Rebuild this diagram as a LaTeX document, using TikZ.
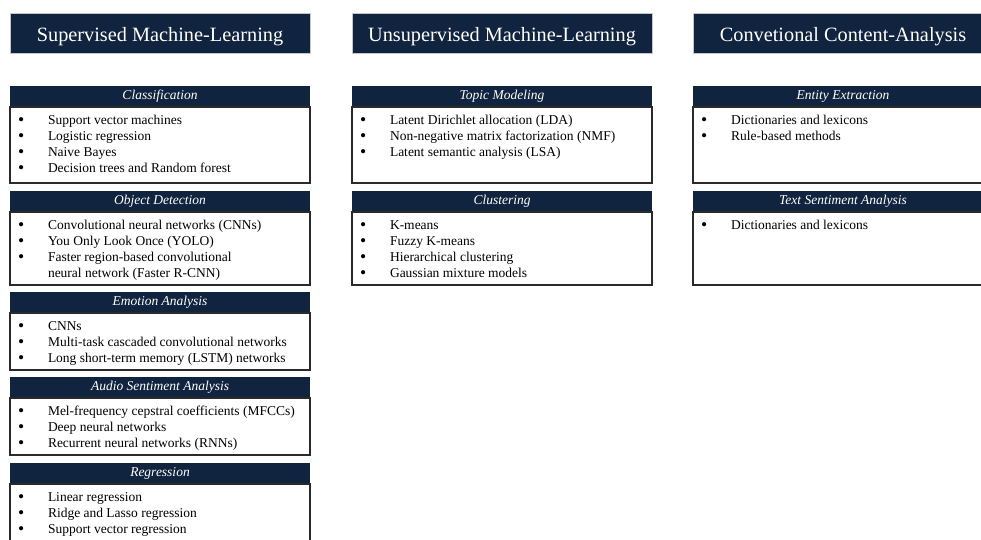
\documentclass[tikz,border=0pt]{standalone}
\usepackage{fontspec}
\setmainfont{Liberation Serif}
\usetikzlibrary{positioning}

\definecolor{deep-navy}{HTML}{10243F}
\definecolor{frame-gray}{HTML}{2A2A2A}

% bullet column of the item lists
\newcommand{\bul}{\raisebox{-0.15ex}{\scalebox{1.3}{\textbullet}} &}

\begin{document}
\begin{tikzpicture}[x=1pt, y=1pt,
    every node/.style={inner sep=0pt, outer sep=0pt},
    colhead/.style={fill=deep-navy, draw=gray!45, line width=0.5pt, text=white,
      minimum width=300pt, minimum height=40pt, anchor=north west,
      text height=16.5pt, text depth=0pt,
      font=\fontsize{20.3}{24}\selectfont},
    subhead/.style={fill=deep-navy, text=white, minimum width=300pt,
      minimum height=21pt, font=\fontsize{13.5}{16}\selectfont\itshape},
    bodybox/.style={draw=frame-gray, line width=1.3pt, fill=white,
      minimum width=300pt},
    items/.style={anchor=north west, align=left,
      font=\fontsize{13.5}{16}\selectfont}]

  \useasboundingbox (0,0) rectangle (981,-539);
  \fill[white] (0,0) rectangle (981,-539);
  \clip (0,0) rectangle (981,-539);

  % column titles
  \node[colhead] (sup) at (10,-13) {Supervised Machine-Learning};
  \node[colhead] (unsup) at (352,-13) {Unsupervised Machine-Learning};
  \node[colhead] (conv) at (693,-13) {Convetional Content-Analysis};

  % supervised
  \node[subhead, anchor=north] (cls) at (160,-86) {Classification};
  \node[bodybox, minimum height=76pt, below=0pt of cls] (clsbox) {};
  \node[items] at ([xshift=8pt, yshift=-6pt]clsbox.north west) {%
    \begin{tabular}{@{}p{30pt}@{}l@{}}
      \bul Support vector machines\\
      \bul Logistic regression\\
      \bul Naive Bayes\\
      \bul Decision trees and Random forest
    \end{tabular}};

  \node[subhead, below=8pt of clsbox] (obj) {Object Detection};
  \node[bodybox, minimum height=73pt, below=0pt of obj] (objbox) {};
  \node[items] at ([xshift=8pt, yshift=-6pt]objbox.north west) {%
    \begin{tabular}{@{}p{30pt}@{}l@{}}
      \bul Convolutional neural networks (CNNs)\\
      \bul You Only Look Once (YOLO)\\
      \bul Faster region-based convolutional\\
      & neural network (Faster R-CNN)
    \end{tabular}};

  \node[subhead, below=7pt of objbox] (emo) {Emotion Analysis};
  \node[bodybox, minimum height=57pt, below=0pt of emo] (emobox) {};
  \node[items] at ([xshift=8pt, yshift=-6pt]emobox.north west) {%
    \begin{tabular}{@{}p{30pt}@{}l@{}}
      \bul CNNs\\
      \bul Multi-task cascaded convolutional networks\\
      \bul Long short-term memory (LSTM) networks
    \end{tabular}};

  \node[subhead, below=7pt of emobox] (aud) {Audio Sentiment Analysis};
  \node[bodybox, minimum height=57pt, below=0pt of aud] (audbox) {};
  \node[items] at ([xshift=8pt, yshift=-6pt]audbox.north west) {%
    \begin{tabular}{@{}p{30pt}@{}l@{}}
      \bul Mel-frequency cepstral coefficients (MFCCs)\\
      \bul Deep neural networks\\
      \bul Recurrent neural networks (RNNs)
    \end{tabular}};

  \node[subhead, below=8pt of audbox] (reg) {Regression};
  \node[bodybox, minimum height=70pt, below=0pt of reg] (regbox) {};
  \node[items] at ([xshift=8pt, yshift=-6pt]regbox.north west) {%
    \begin{tabular}{@{}p{30pt}@{}l@{}}
      \bul Linear regression\\
      \bul Ridge and Lasso regression\\
      \bul Support vector regression
    \end{tabular}};

  % unsupervised
  \node[subhead, anchor=north] (topic) at (502,-86) {Topic Modeling};
  \node[bodybox, minimum height=76pt, below=0pt of topic] (topicbox) {};
  \node[items] at ([xshift=8pt, yshift=-6pt]topicbox.north west) {%
    \begin{tabular}{@{}p{30pt}@{}l@{}}
      \bul Latent Dirichlet allocation (LDA)\\
      \bul Non-negative matrix factorization (NMF)\\
      \bul Latent semantic analysis (LSA)
    \end{tabular}};

  \node[subhead, below=8pt of topicbox] (clu) {Clustering};
  \node[bodybox, minimum height=73pt, below=0pt of clu] (clubox) {};
  \node[items] at ([xshift=8pt, yshift=-6pt]clubox.north west) {%
    \begin{tabular}{@{}p{30pt}@{}l@{}}
      \bul K-means\\
      \bul Fuzzy K-means\\
      \bul Hierarchical clustering\\
      \bul Gaussian mixture models
    \end{tabular}};

  % conventional
  \node[subhead, anchor=north] (ent) at (843,-86) {Entity Extraction};
  \node[bodybox, minimum height=76pt, below=0pt of ent] (entbox) {};
  \node[items] at ([xshift=8pt, yshift=-6pt]entbox.north west) {%
    \begin{tabular}{@{}p{30pt}@{}l@{}}
      \bul Dictionaries and lexicons\\
      \bul Rule-based methods
    \end{tabular}};

  \node[subhead, below=8pt of entbox] (txt) {Text Sentiment Analysis};
  \node[bodybox, minimum height=73pt, below=0pt of txt] (txtbox) {};
  \node[items] at ([xshift=8pt, yshift=-6pt]txtbox.north west) {%
    \begin{tabular}{@{}p{30pt}@{}l@{}}
      \bul Dictionaries and lexicons
    \end{tabular}};
\end{tikzpicture}
\end{document}
